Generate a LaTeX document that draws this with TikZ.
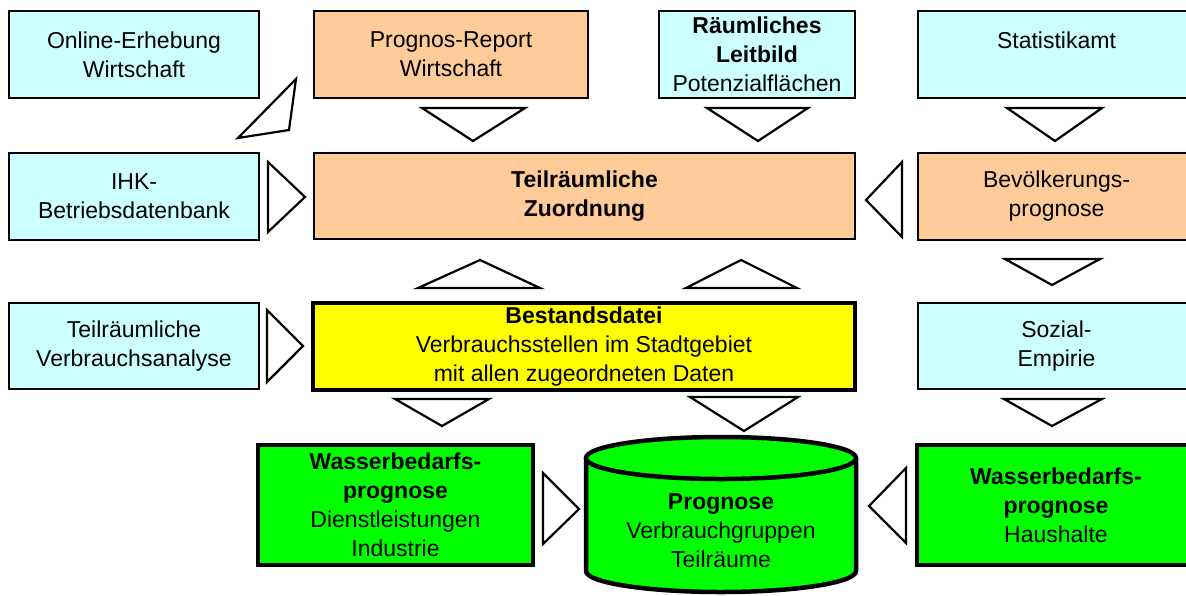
\documentclass[tikz,border=0pt]{standalone}
\usepackage{fontspec}
\setmainfont{Liberation Sans}
\usetikzlibrary{positioning}
\definecolor{hellblau}{HTML}{CCFFFF}
\definecolor{apricot}{HTML}{FFCC99}
\definecolor{gelb}{HTML}{FFFF00}
\definecolor{gruen}{HTML}{00FF00}

\begin{document}
\begin{tikzpicture}[x=1pt, y=-1pt,
  box/.style={draw, line width=2.8pt, anchor=north west, inner sep=0pt, outer sep=0pt, align=center, font=\fontsize{23}{29}\selectfont},
  dick/.style={box, line width=4.5pt},
  pfeil/.style={draw, fill=white, line width=2.2pt, line join=miter}
]
\useasboundingbox (0,0) rectangle (1186,595);

\node[box, fill=hellblau, minimum width=250, minimum height=87] (online) at (9,11) {Online-Erhebung\\Wirtschaft};
\node[box, fill=apricot, minimum width=274, minimum height=87] (prognos) at (314,11) {Prognos-Report\\Wirtschaft};
\node[box, fill=hellblau, minimum width=196, minimum height=87] (leitbild) at (659,11) {\textbf{Räumliches}\\\textbf{Leitbild}\\Potenzialflächen};
\node[box, fill=hellblau, minimum width=277, minimum height=87] (statistik) at (918,11) {Statistikamt\\\phantom{Wirtschaft}};

\node[box, fill=hellblau, minimum width=250, minimum height=87] (ihk) at (9,153) {IHK-\\Betriebsdatenbank};
\node[box, fill=apricot, minimum width=541, minimum height=86] (zuordnung) at (314,153) {\textbf{Teilräumliche}\\\textbf{Zuordnung}};
\node[box, fill=apricot, minimum width=277, minimum height=87] (bevoelkerung) at (918,153) {Bevölkerungs-\\prognose};

\node[box, fill=hellblau, minimum width=250, minimum height=86] (analyse) at (9,303) {Teilräumliche\\Verbrauchsanalyse};
\node[dick, fill=gelb, minimum width=542, minimum height=87] (bestand) at (313,303) {\textbf{Bestandsdatei}\\Verbrauchsstellen im Stadtgebiet\\mit allen zugeordneten Daten};
\node[box, fill=hellblau, minimum width=277, minimum height=86] (sozial) at (918,303) {Sozial-\\Empirie};

\node[dick, fill=gruen, minimum width=275, minimum height=120] (dienst) at (258,445) {\textbf{Wasserbedarfs-}\\\textbf{prognose}\\Dienstleistungen\\Industrie};
\node[dick, fill=gruen, minimum width=278, minimum height=120] (haushalte) at (917,445) {\textbf{Wasserbedarfs-}\\\textbf{prognose}\\Haushalte};

% Zylinder
\fill[gruen] (586,458) -- (586,571) arc[start angle=180, end angle=0, x radius=135, y radius=21] -- (856,458) -- cycle;
\draw[line width=4.5pt] (586,458) -- (586,571) arc[start angle=180, end angle=0, x radius=135, y radius=21] -- (856,458);
\draw[fill=gruen, line width=4.5pt] (721,458) ellipse[x radius=135, y radius=21];
\node[align=center, inner sep=0pt, font=\fontsize{23}{29}\selectfont] (prognose) at (721,531) {\textbf{Prognose}\\Verbrauchgruppen\\Teilräume};

% Pfeile
\draw[pfeil] (296,79) -- (289,130) -- (238,138) -- cycle;
\draw[pfeil] (422,108) -- (525,108) -- (473,141) -- cycle;
\draw[pfeil] (707,108) -- (808,108) -- (758,141) -- cycle;
\draw[pfeil] (1007,108) -- (1102,108) -- (1055,141) -- cycle;
\draw[pfeil] (268,162) -- (305,197) -- (268,232) -- cycle;
\draw[pfeil] (902,162) -- (866,200) -- (902,237) -- cycle;
\draw[pfeil] (418,288) -- (540,288) -- (480,260) -- cycle;
\draw[pfeil] (686,288) -- (797,288) -- (741,260) -- cycle;
\draw[pfeil] (1005,259) -- (1100,259) -- (1052,285) -- cycle;
\draw[pfeil] (267,310) -- (303,346) -- (267,382) -- cycle;
\draw[pfeil] (395,399) -- (489,399) -- (442,426) -- cycle;
\draw[pfeil] (690,397) -- (798,397) -- (744,431) -- cycle;
\draw[pfeil] (1004,399) -- (1102,399) -- (1052,426) -- cycle;
\draw[pfeil] (543,473) -- (579,509) -- (543,544) -- cycle;
\draw[pfeil] (906,468) -- (869,506) -- (906,543) -- cycle;
\end{tikzpicture}
\end{document}
